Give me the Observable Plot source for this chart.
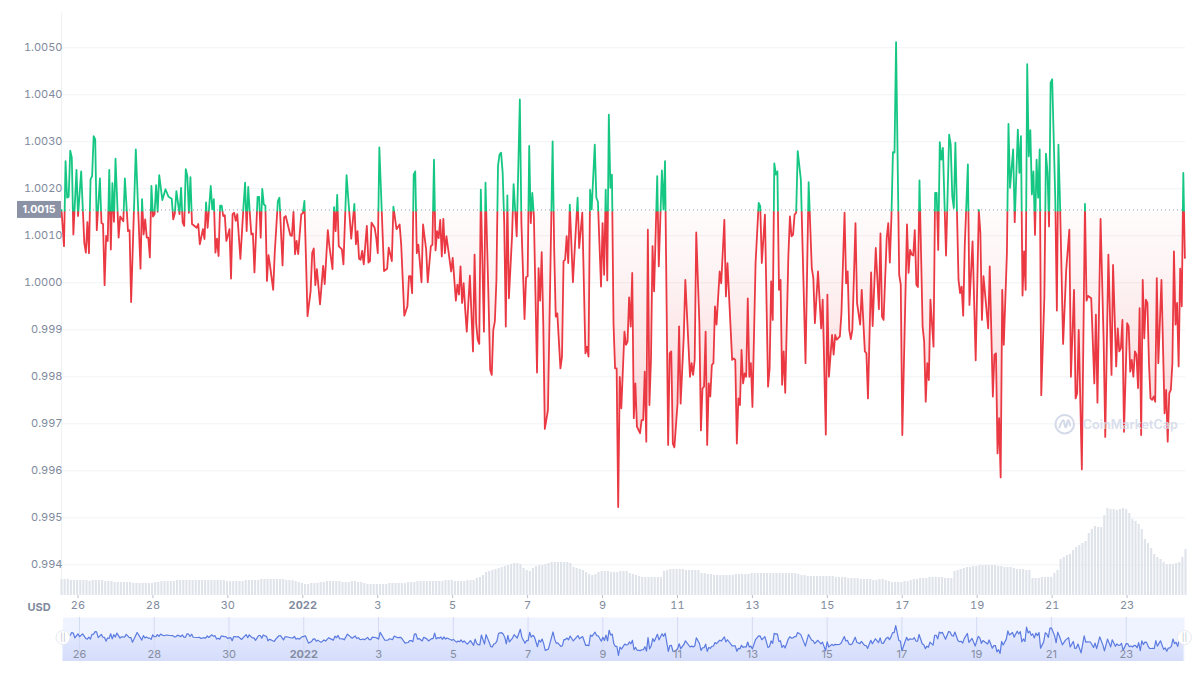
<!DOCTYPE html>
<html><head><meta charset="utf-8">
<style>
html,body{margin:0;padding:0;background:#fff}
#chart{position:relative;width:1200px;height:675px;overflow:hidden}
#chart svg{position:absolute;left:0}
</style>
<script src="https://cdn.jsdelivr.net/npm/d3@7"></script>
<script src="https://cdn.jsdelivr.net/npm/@observablehq/plot@0.6"></script>
</head><body><div id="chart"></div>
<script>
const startTime = Date.UTC(2021, 11, 25, 13, 26);
const basePrice = 1.00155;
const baseLabel = "1.0015";
const priceTicks = [0.994,0.995,0.996,0.997,0.998,0.999,1.000,1.001,1.002,1.003,1.004,1.005];
const dayTicks = [[2021,11,26],[2021,11,28],[2021,11,30],[2022,0,3],[2022,0,5],[2022,0,7],[2022,0,9],[2022,0,11],[2022,0,13],[2022,0,15],[2022,0,17],[2022,0,19],[2022,0,21],[2022,0,23]];
const yearTicks = [[2022,0,1]];
// The traces below were read against the dotted line; this brings them onto the gridlines
const readingCalibration = 0.00005;
const hourCalibration = 0.4;

// Hours since the first sample, and the price read at that hour
const hoursA = [
0,2,3,4,5,6,7,8,10,11,
13,15,16,17,18,19,20,21,22,23,
25,26,27,28,29,30,31,32,33,34,
35,37,38,40,41,43,44,45,48,51,
52,53,54,55,56,57,58,59,60,61,
62,63,65,67,69,71,72,73,74,76,
77,78,79,80,81,82,83,84,87,88,
89,91,92,93,94,96,97,98,99,100,
101,102,103,104,105,106,108,109,110,111,
112,113,115,117,118,119,120,121,122,123,
124,126,127,128,129,130,131,132,133,134,
136,137,139,140,142,143,144,147,148,149,
150,151,152,154,155,156,158,160,161,162,
163,164,166,168,169,171,172,174,175,176,
177,178,180,181,183,186,188,189,190,191,
192,193,194,196,197,198,199,201,202,203,
204,207,209,210,212,213,215];
const pricesA = [
1.0015,1.00073,1.00254,1.00176,1.00178,1.00276,1.00261,1.00098,1.00235,1.00137,
1.00232,1.0008,1.00059,1.00124,1.00058,1.00215,1.00222,1.00307,1.003,1.00107,
1.00217,1.00122,1.0012,0.9999,1.00095,1.00084,1.00235,1.00066,1.00207,1.00125,
1.00259,1.00091,1.00136,1.00126,1.00217,1.00105,1.00107,0.99954,1.00279,1.00025,
1.00173,1.00098,1.0013,1.00091,1.00091,1.00049,1.00201,1.00136,1.00141,1.00203,
1.00146,1.00224,1.00171,1.00194,1.00178,1.00174,1.0013,1.00143,1.0019,1.00141,
1.00197,1.00123,1.00116,1.00237,1.00222,1.00144,1.0022,1.0012,1.00112,1.0012,
1.00077,1.00109,1.00088,1.00166,1.00112,1.00201,1.00151,1.00173,1.00059,1.00089,
1.00052,1.00159,1.00159,1.00137,1.00139,1.00084,1.00109,1.00004,1.00141,1.00144,
1.00127,1.00141,1.00046,1.00159,1.00208,1.00105,1.00199,1.00144,1.00098,1.001,
1.00017,1.00178,1.00178,1.00091,1.00195,1.00162,1.00159,0.99999,1.00054,1.00031,
0.9998,1.00059,1.00169,1.00176,1.00032,1.00134,1.00137,1.00096,1.00095,1.00146,
1.00056,1.00084,1.00056,1.00141,1.00143,1.00169,0.99924,0.99978,1.00059,1.00068,
0.9999,1.00024,0.99949,1.00031,0.99992,1.00107,1.00073,1.00024,1.00156,1.00105,
1.00182,1.00073,1.00066,1.00034,1.00224,1.00089,1.00163,1.00077,1.00105,1.00046,
1.00044,1.00063,1.00034,1.00116,1.00038,1.00041,1.00123,1.00112,1.00091,1.00058,
1.00283,1.0002,1.00025,1.0007,1.00041,1.00157,1.00109];

const hoursB = [
217,218,220,222,223,224,225,226,227,228,
229,231,232,234,235,237,238,239,240,241,
242,243,244,245,246,247,250,251,253,254,
255,256,257,258,259,260,262,264,265,266,
267,268,269,271,272,274,275,276,277,278,
279,280,281,282,283,284,285,286,287,289,
290,292,294,295,297,298,299,300,301,302,
303,305,306,307,308,309,310,312,315,316,
317,318,320,321,322,323,324,325,326,328,
331,332,334,336,337,338,339,340,342,343,
344,346,347,348,349,350,351,352,353,354,
355,356,357,358,359,361,362,363,364,365,
366,367,368,369,371,372,373,374,375,376,
377,378,379,380,382,383,385,386,387,389,
390,391,392,393,395,396,397,399,400,403,
404,405,406,407,409,410,411,412,413,414,
415,416,417,418,419,420,422,423,425,426,
427,430,431,432,433,434,435,436,437,438,
439,440,441,442,443,445,447,448,449,451,
453,454,455,456,457,458,459,460,461,462,
463,464,466,467,468,469,470,471,472];
const pricesB = [
1.00119,1.00076,0.99925,0.99945,1.00009,1.00009,0.99973,1.00225,1.00232,1.00058,
1.00076,0.99996,1.00119,1.00065,0.99996,1.00073,1.00076,1.00257,1.00064,1.00105,
1.0009,1.00129,1.00051,1.00131,1.00058,1.00094,1.00019,1.00048,0.99957,0.99991,
0.9997,1.0003,0.99952,0.99994,0.99938,0.99891,1.0001,0.99849,1.00055,0.99909,
0.99874,0.99865,1.00193,0.99891,1.00208,0.99952,0.9981,0.99799,0.99895,0.99913,
1.00001,1.00243,1.00268,1.00272,1.00229,1.00122,0.99902,1.00181,0.99962,1.00094,
1.00205,1.00094,1.00385,1.00122,0.99918,1.00007,1.00009,1.00286,1.00122,1.00186,
1.00136,0.99804,1.00026,0.99957,1.0006,0.99909,0.99684,0.99724,1.00296,1.00065,
0.99923,0.9993,0.99813,0.99838,1.00041,1.00044,1.00094,1.00037,1.00161,0.99996,
1.00176,1.00069,1.00144,0.99845,0.99859,0.99838,1.00193,1.00151,1.00289,1.00176,
1.00168,0.99987,1.00122,1.00012,1.00193,1.0,1.00353,1.00197,1.00225,0.99909,
0.99813,0.99813,0.99518,0.99795,0.99728,0.99891,0.99863,0.9987,0.99964,0.99902,
1.00016,0.99707,0.99781,0.99689,0.99675,0.99703,0.99703,0.99806,0.99657,1.00108,
0.99735,0.99831,1.00073,0.99977,1.00222,1.0003,1.00234,1.00151,1.00254,0.9965,
0.99845,0.99849,0.99653,0.99645,0.99738,0.99902,0.99738,0.99881,1.00001,0.99795,
0.99824,0.99799,0.99831,1.00102,0.99909,0.99681,0.9977,0.99774,0.99891,0.9965,
0.99781,0.99753,0.9982,0.99824,0.99945,0.99906,1.00019,0.99994,1.00129,0.99966,
1.00037,0.99831,0.99834,0.99831,0.99653,0.99749,0.99735,0.99852,0.99781,0.99802,
0.99795,0.99962,0.99795,0.99824,0.99731,1.00037,1.00165,1.00158,1.00037,1.0014,
0.99774,0.99813,0.99998,0.99916,1.00249,1.00225,1.00232,0.9998,1.00001,0.99778,
0.99849,0.99761,1.00051,1.00136,1.00094,1.00097,1.0014,1.00144,1.00275];

const hoursC = [
474,477,479,481,482,483,485,487,488,490,
491,492,494,495,496,497,499,500,502,503,
504,505,506,507,509,510,512,513,515,516,
517,519,520,522,524,525,526,527,529,530,
531,532,533,534,535,537,538,539,542,543,
544,545,546,547,548,549,550,552,553,554,
555,556,557,559,560,561,562,563,564,565,
567,569,570,571,572,573,574,575,576,577,
578,579,581,582,584,586,588,589,590,591,
594,595,597,598,599,600,601,602,603,604,
606,607,608,610,611,613,614,615,616,617,
618,619,620,621,622,623,624,625,626,627,
628,630,631,632,633,634,635,637,638,639,
640,642,644,646,647,649,650,651,652,654,
656,657,658,660,662,663,664,666,668,669,
671,673,674,676,677,678,679,680,681,683,
684,685,686,687,688,689,690,691,692,693,
694,695,696,697,698,699,700,701,702,703,
705,707,708,709,710,711,712,713,714,715,
716,717,718,719,720];
const pricesC = [
1.00215,0.99824,1.00209,1.00026,1.00005,0.99909,1.00019,0.99898,0.99959,0.99672,
0.9997,0.99795,0.99884,0.99842,0.99884,0.99874,0.99881,0.9993,1.00144,0.99994,
1.00019,0.99895,0.99875,0.99895,1.00122,0.99952,0.99906,0.9998,0.99849,0.99845,
0.99749,1.00017,0.99903,1.00069,0.99939,1.001,0.99923,0.99916,1.0009,1.00122,
1.00038,1.00133,1.00273,1.00272,1.00507,1.00012,0.99991,0.99671,1.00119,1.00016,
1.00065,1.00055,1.00053,1.00107,0.99991,0.99986,1.00213,0.99902,0.9987,0.99742,
0.99824,0.99788,0.99959,0.99859,1.00186,1.00186,1.00065,1.00294,1.00257,1.00282,
1.00053,1.0031,1.00289,1.00179,1.00154,1.00293,1.00147,1.00001,0.99973,0.99987,
0.99925,1.00073,1.00247,0.99948,1.00083,0.9983,1.0015,1.00101,0.99916,1.00009,
0.99898,1.0003,0.99753,0.99842,0.99845,0.99632,0.99707,0.99581,0.9998,0.99863,
1.00058,1.00333,1.00197,1.00279,1.00124,1.00321,1.00229,1.00307,0.99968,1.00062,
0.9998,1.0046,1.00264,1.0032,1.00183,1.00232,1.00097,1.00257,1.00176,1.00279,
0.99756,0.99966,1.0027,1.00229,1.00115,1.00421,1.00428,1.00172,0.99936,1.00289,
1.00168,0.99865,1.00023,1.00108,0.99795,0.9998,0.99749,0.9976,0.99895,0.99598,
1.00163,0.99957,0.99967,0.99962,0.99781,0.99927,0.9974,1.00131,0.99866,0.99667,
1.00055,0.99799,1.00033,0.99817,0.99898,0.99849,0.99856,0.99916,0.99678,0.99909,
0.99902,0.99806,0.99831,0.99795,0.99849,0.99842,0.99771,0.99941,0.99671,1.00001,
0.99877,0.99959,0.99952,0.99824,0.99749,0.99746,0.99753,0.99742,1.00005,0.99824,
1.00001,0.99717,0.99767,0.99657,0.9976,0.99767,0.99824,1.00062,0.99906,0.99952,
0.99817,1.00025,0.99945,1.00229,1.00048];

// Two-hourly volume, in relative units (one reading per bar)
const volumeA = [
16,16,16,15,15,15,15,15,15,14,
15,15,15,15,14,14,14,13,13,13,
13,13,13,12,12,12,12,12,12,12,
13,13,14,14,14,14,14,15,15,15,
15,15,15,15,15,15,15,15,15,15,
15,15,15,14,14,14,14,14,14,15,
15,15,15,15,16,16,16,16,16,16,
16,16,15,15,15,14,13,12,11,11,
12,12,12,13,13,14,14,14,14,14,
13,13,13,14,14,13,13,12,11,11,
11,11,11,11,11,12,12,12,12];
const volumeB = [
12,12,13,13,13,14,14,14,14,14,
14,14,14,14,15,15,15,14,14,14,
14,15,15,15,17,18,20,23,24,25,
26,27,28,29,30,31,32,32,31,27,
25,24,27,29,30,30,31,32,33,33,
33,33,33,33,32,28,27,26,25,23,
21,20,21,23,24,24,24,23,23,23,
24,24,24,22,21,20,19,18,18,18,
18,18,18,18,24,25,26,26,26,26,
26,25,25,25,25,25,22,22,21,21,
20,20,20,20,20,20,20,21,21,21,
21,21,22,22,22,22,22,22,22,22];
const volumeC = [
22,22,22,22,22,22,22,21,20,20,
19,19,19,19,19,19,19,19,19,18,
18,18,18,17,17,17,17,16,16,16,
16,15,15,16,16,15,14,13,13,13,
13,14,14,15,16,16,17,17,17,18,
18,18,18,18,17,17,17,24,25,26,
27,28,28,29,29,30,30,30,30,30,
30,29,29,28,28,28,27,26,26,26,
25,25,17,17,17,18,18,18,18,22,
25,36,38,40,41,45,48,50,52,54,
62,66,69,68,68,80,87,86,86,85,
86,87,86,82,76,74,71,66,56,52,
47,41,38,36,33,31,31,31,32,33,
38,46];

const sampleHours = [...hoursA, ...hoursB, ...hoursC].map(h => Math.max(0, h - hourCalibration));
const samplePrices = [...pricesA, ...pricesB, ...pricesC].map(p => p + readingCalibration);
const volumes = [...volumeA, ...volumeB, ...volumeC];

const at = h => new Date(startTime + h * 3600e3);
const rows = sampleHours.map((h, i) => ({t: at(h), p: samplePrices[i]}));
const volRows = volumes.map((v, i) => ({t: at(i * 2), v}));
const dayDates = dayTicks.map(d => new Date(Date.UTC(...d)));
const yearDates = yearTicks.map(d => new Date(Date.UTC(...d)));
const xDomain = [at(0), at(720)];
const textColor = "#808a9d";
const gridColor = "#eff2f5";
const baseStyle = {background: "transparent", fontFamily: "Inter, 'Noto Sans', sans-serif", fontSize: "11px"};

function gradients(index, scales) {
  const by = scales.y(basePrice);
  const defs = d3.create("svg:defs");
  const split = defs.append("linearGradient").attr("id", "lineSplit")
    .attr("gradientUnits", "userSpaceOnUse").attr("x1", 0).attr("x2", 0).attr("y1", by + 1.5).attr("y2", by + 1.6);
  split.append("stop").attr("offset", 0).attr("stop-color", "#16c784");
  split.append("stop").attr("offset", 1).attr("stop-color", "#ea3943");
  const fade = defs.append("linearGradient").attr("id", "areaFade")
    .attr("gradientUnits", "userSpaceOnUse").attr("x1", 0).attr("x2", 0).attr("y1", by).attr("y2", scales.y(0.9958));
  [[0, 0.015], [0.2, 0.05], [0.6, 0.15], [1, 0.23]].forEach(([o, a]) =>
    fade.append("stop").attr("offset", o).attr("stop-color", "#ea3943").attr("stop-opacity", a));
  return defs.node();
}

function navGradient() {
  const defs = d3.create("svg:defs");
  const g = defs.append("linearGradient").attr("id", "navFade").attr("gradientUnits", "userSpaceOnUse")
    .attr("x1", 0).attr("x2", 0).attr("y1", 17).attr("y2", 51);
  g.append("stop").attr("offset", 0).attr("stop-color", "#e6ebfe");
  g.append("stop").attr("offset", 1).attr("stop-color", "#d5ddfb");
  return defs.node();
}

function priceTag(index, scales) {
  const cy = scales.y(basePrice);
  const g = d3.create("svg:g");
  g.append("rect").attr("x", 17).attr("y", cy - 8.5).attr("width", 44).attr("height", 17).attr("fill", "#8b92a5");
  g.append("text").attr("x", 39).attr("y", cy).attr("dy", "0.35em").attr("text-anchor", "middle")
    .attr("fill", "#fff").attr("font-weight", 700).attr("font-size", 10.5).text(baseLabel);
  return g.node();
}

function watermark(index, scales) {
  const cx = scales.x(new Date(Date.UTC(2022, 0, 21, 8, 24)));
  const g = d3.create("svg:g").attr("transform", `translate(${cx},${scales.y(0.99698)})`).attr("opacity", 0.85);
  g.append("circle").attr("r", 9.3).attr("fill", "none").attr("stroke", "#cdd4e6").attr("stroke-width", 2);
  g.append("path").attr("d", "M-5.5 4 C-4 -1 -2.8 -4 -1.5 -4 C0 -4 -0.5 3 1 3 C2.5 3 2 -4 3.5 -4 C5 -4 4.5 1 6 2")
    .attr("fill", "none").attr("stroke", "#cdd4e6").attr("stroke-width", 2);
  g.append("text").attr("x", 18).attr("dy", "0.35em").attr("text-anchor", "start").attr("fill", "#d3d9e9").attr("font-weight", 600)
    .attr("font-size", 12.6).text("CoinMarketCap");
  return g.node();
}

const main = Plot.plot({
  width: 1200, height: 613,
  marginLeft: 61, marginRight: 15, marginTop: 0, marginBottom: 18,
  style: baseStyle,
  x: {type: "utc", domain: xDomain},
  y: {domain: [0.993347, 1.006006]},
  marks: [
    gradients,
    Plot.ruleY(priceTicks, {stroke: gridColor}),
    Plot.ruleX([at(0)], {y1: 0.99335, y2: 1.00574, stroke: gridColor}),
    Plot.axisY(priceTicks, {tickSize: 0, tickPadding: -1, color: textColor, label: null, tickFormat: d => d >= 1 ? d.toFixed(4) : d.toFixed(3)}),
    Plot.axisX(dayDates, {tickSize: 3, tickPadding: 3, color: textColor, label: null, stroke: "#b6bcc9", tickFormat: d => String(d.getUTCDate())}),
    Plot.axisX(yearDates, {tickSize: 3, tickPadding: 3, color: textColor, label: null, stroke: "#b6bcc9", fontWeight: 700, tickFormat: d => String(d.getUTCFullYear())}),
    Plot.text(["USD"], {frameAnchor: "bottom-left", dx: -34, dy: 15, textAnchor: "start", fill: textColor, fontWeight: 700}),
    Plot.areaY(rows, {x: "t", y1: () => basePrice, y2: "p", fill: "url(#areaFade)", curve: "linear"}),
    Plot.ruleY([basePrice], {stroke: "#9aa1b5", strokeDasharray: "1,3"}),
    Plot.line(rows, {x: "t", y: "p", stroke: "url(#lineSplit)", strokeWidth: 1.8, curve: "linear"}),
    watermark,
    priceTag
  ]
});
main.style.top = "0px";

const vol = Plot.plot({
  width: 1200, height: 120,
  marginLeft: 61, marginRight: 15, marginTop: 0, marginBottom: 0,
  style: baseStyle,
  x: {type: "utc", domain: xDomain, axis: null},
  y: {domain: [0, 120], axis: null},
  marks: [Plot.ruleX(volRows, {x: "t", y1: 0, y2: "v", stroke: "#dfe3ea", strokeWidth: 2.1})]
});
vol.style.top = "475px";

const nav = Plot.plot({
  width: 1200, height: 51,
  marginLeft: 62.5, marginRight: 16, marginTop: 7, marginBottom: 0,
  style: baseStyle,
  x: {type: "utc", domain: xDomain, axis: null},
  y: {domain: [0.99317, 1.00783], axis: null},
  marks: [
    navGradient,
    Plot.frame({fill: "#eff3ff", stroke: null}),
    Plot.areaY(rows, {x: "t", y1: () => 0.99317, y2: "p", fill: "url(#navFade)"}),
    Plot.ruleX([...dayDates, ...yearDates], {stroke: "#d3dbf3", strokeWidth: 1}),
    Plot.line(rows, {x: "t", y: "p", stroke: "#5b7be0", strokeWidth: 1.2}),
    Plot.text(dayDates, {x: d => d, frameAnchor: "bottom", dy: -4, text: d => String(d.getUTCDate()), fill: "#858da3"}),
    Plot.text(yearDates, {x: d => d, frameAnchor: "bottom", dy: -4, text: d => String(d.getUTCFullYear()), fill: "#858da3", fontWeight: 700}),
    Plot.dot(xDomain, {x: d => d, frameAnchor: "middle", dy: -2, r: 7, fill: "#fff", stroke: "#e6e9f2", strokeWidth: 1}),
    Plot.text(xDomain, {x: d => d, frameAnchor: "middle", dy: -2, text: () => "||", fill: "#b4bbcd", fontSize: 8})
  ]
});
nav.style.top = "610px";

document.getElementById("chart").append(main, vol, nav);
</script>
</body></html>
